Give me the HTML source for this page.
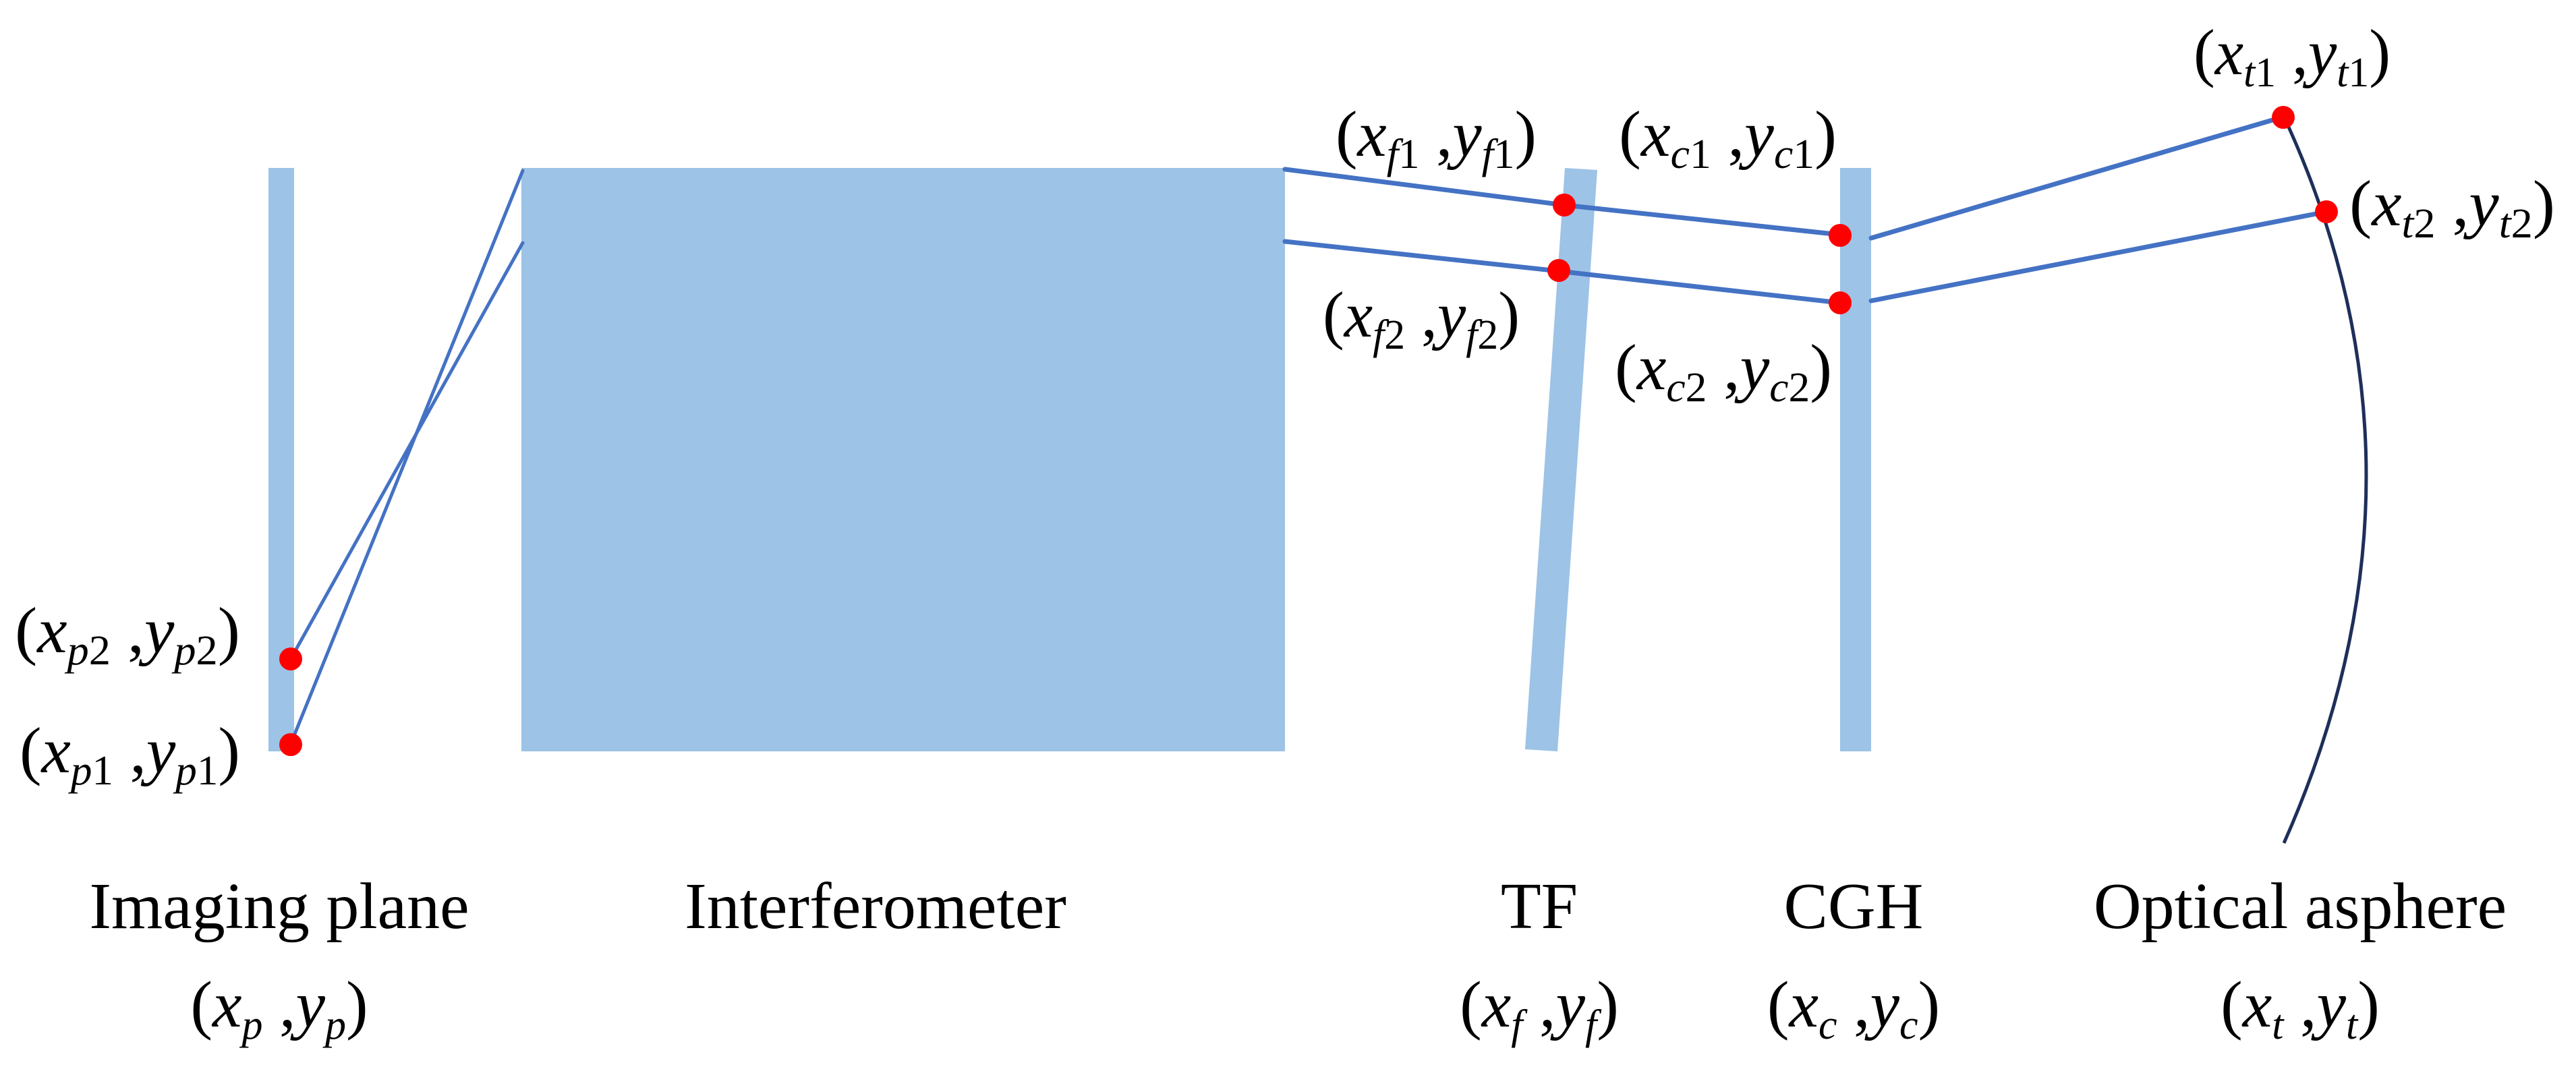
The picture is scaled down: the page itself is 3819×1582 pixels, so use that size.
<!DOCTYPE html>
<html><head><meta charset="utf-8"><style>
html,body{margin:0;padding:0;background:#fff;}
svg{display:block;}
text{font-family:"Liberation Serif",serif;fill:#000;}
.i{font-style:italic;}
</style></head><body>
<svg width="3819" height="1582" viewBox="0 0 3819 1582" xmlns="http://www.w3.org/2000/svg">
<rect x="0" y="0" width="3819" height="1582" fill="#fff"/>
<!-- components -->
<rect x="398" y="249" width="38" height="865" fill="#9DC3E6"/>
<rect x="773" y="249" width="1132" height="865" fill="#9DC3E6"/>
<polygon points="2320,249 2368,252 2309,1114 2261,1111" fill="#9DC3E6"/>
<rect x="2728" y="249" width="46" height="865" fill="#9DC3E6"/>
<!-- rays -->
<g stroke="#4472C4" fill="none" stroke-linecap="round">
<polyline points="1905,251 2319,304 2728,348" stroke-width="7"/>
<polyline points="2774,353 3386,173" stroke-width="7"/>
<polyline points="1905,358 2311,402 2728,449" stroke-width="7"/>
<polyline points="2774,446 3449,314" stroke-width="7"/>
<polyline points="775,253 431,1103" stroke-width="5"/>
<polyline points="775,360 431,977" stroke-width="5"/>
</g>
<!-- asphere -->
<path d="M3386 173 Q3630 700 3386 1250" stroke="#1F2F5A" stroke-width="5" fill="none"/>
<!-- dots -->
<g fill="#FF0000">
<circle cx="431" cy="977" r="17"/>
<circle cx="431" cy="1104" r="17"/>
<circle cx="2319" cy="304" r="17"/>
<circle cx="2311" cy="401" r="17"/>
<circle cx="2728" cy="349" r="17"/>
<circle cx="2728" cy="449" r="17"/>
<circle cx="3385" cy="174" r="17"/>
<circle cx="3449" cy="314" r="17"/>
</g>
<!-- point labels -->
<g font-size="96">
<text x="3252" y="110" textLength="292" lengthAdjust="spacingAndGlyphs">(<tspan class="i">x</tspan><tspan class="i" font-size="62" dy="18">t</tspan><tspan font-size="62">1</tspan><tspan dy="-18"> ,</tspan><tspan class="i">y</tspan><tspan class="i" font-size="62" dy="18">t</tspan><tspan font-size="62">1</tspan><tspan dy="-18">)</tspan></text>
<text x="1980" y="231" textLength="298" lengthAdjust="spacingAndGlyphs">(<tspan class="i">x</tspan><tspan class="i" font-size="62" dy="18">f</tspan><tspan font-size="62">1</tspan><tspan dy="-18"> ,</tspan><tspan class="i">y</tspan><tspan class="i" font-size="62" dy="18">f</tspan><tspan font-size="62">1</tspan><tspan dy="-18">)</tspan></text>
<text x="2400" y="231" textLength="323" lengthAdjust="spacingAndGlyphs">(<tspan class="i">x</tspan><tspan class="i" font-size="62" dy="18">c</tspan><tspan font-size="62">1</tspan><tspan dy="-18"> ,</tspan><tspan class="i">y</tspan><tspan class="i" font-size="62" dy="18">c</tspan><tspan font-size="62">1</tspan><tspan dy="-18">)</tspan></text>
<text x="3483" y="334" textLength="305" lengthAdjust="spacingAndGlyphs">(<tspan class="i">x</tspan><tspan class="i" font-size="62" dy="18">t</tspan><tspan font-size="62">2</tspan><tspan dy="-18"> ,</tspan><tspan class="i">y</tspan><tspan class="i" font-size="62" dy="18">t</tspan><tspan font-size="62">2</tspan><tspan dy="-18">)</tspan></text>
<text x="1961" y="499" textLength="292" lengthAdjust="spacingAndGlyphs">(<tspan class="i">x</tspan><tspan class="i" font-size="62" dy="18">f</tspan><tspan font-size="62">2</tspan><tspan dy="-18"> ,</tspan><tspan class="i">y</tspan><tspan class="i" font-size="62" dy="18">f</tspan><tspan font-size="62">2</tspan><tspan dy="-18">)</tspan></text>
<text x="2394" y="577" textLength="322" lengthAdjust="spacingAndGlyphs">(<tspan class="i">x</tspan><tspan class="i" font-size="62" dy="18">c</tspan><tspan font-size="62">2</tspan><tspan dy="-18"> ,</tspan><tspan class="i">y</tspan><tspan class="i" font-size="62" dy="18">c</tspan><tspan font-size="62">2</tspan><tspan dy="-18">)</tspan></text>
<text x="22" y="967" textLength="334" lengthAdjust="spacingAndGlyphs">(<tspan class="i">x</tspan><tspan class="i" font-size="62" dy="18">p</tspan><tspan font-size="62">2</tspan><tspan dy="-18"> ,</tspan><tspan class="i">y</tspan><tspan class="i" font-size="62" dy="18">p</tspan><tspan font-size="62">2</tspan><tspan dy="-18">)</tspan></text>
<text x="29" y="1145" textLength="327" lengthAdjust="spacingAndGlyphs">(<tspan class="i">x</tspan><tspan class="i" font-size="62" dy="18">p</tspan><tspan font-size="62">1</tspan><tspan dy="-18"> ,</tspan><tspan class="i">y</tspan><tspan class="i" font-size="62" dy="18">p</tspan><tspan font-size="62">1</tspan><tspan dy="-18">)</tspan></text>
</g>
<!-- bottom labels -->
<g font-size="98" text-anchor="middle">
<text x="414" y="1376">Imaging plane</text>
<text x="1298" y="1376">Interferometer</text>
<text x="2282" y="1376">TF</text>
<text x="2748" y="1376">CGH</text>
<text x="3410" y="1376">Optical asphere</text>
<text x="414" y="1522">(<tspan class="i">x</tspan><tspan class="i" font-size="62" dy="18">p</tspan><tspan dy="-18"> ,</tspan><tspan class="i">y</tspan><tspan class="i" font-size="62" dy="18">p</tspan><tspan dy="-18">)</tspan></text>
<text x="2282" y="1522">(<tspan class="i">x</tspan><tspan class="i" font-size="62" dy="18">f</tspan><tspan dy="-18"> ,</tspan><tspan class="i">y</tspan><tspan class="i" font-size="62" dy="18">f</tspan><tspan dy="-18">)</tspan></text>
<text x="2748" y="1522">(<tspan class="i">x</tspan><tspan class="i" font-size="62" dy="18">c</tspan><tspan dy="-18"> ,</tspan><tspan class="i">y</tspan><tspan class="i" font-size="62" dy="18">c</tspan><tspan dy="-18">)</tspan></text>
<text x="3410" y="1522">(<tspan class="i">x</tspan><tspan class="i" font-size="62" dy="18">t</tspan><tspan dy="-18"> ,</tspan><tspan class="i">y</tspan><tspan class="i" font-size="62" dy="18">t</tspan><tspan dy="-18">)</tspan></text>
</g>
</svg>
</body></html>
